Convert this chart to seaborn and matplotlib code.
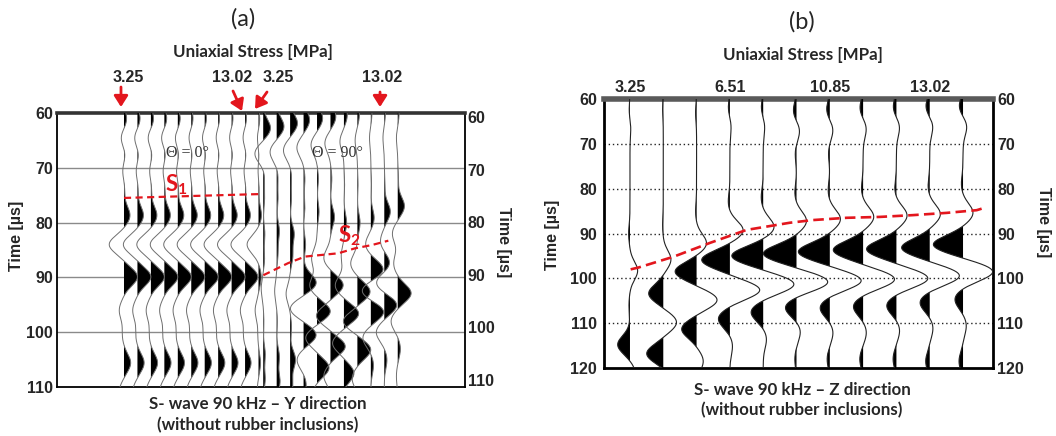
import numpy as np
import pandas as pd
import matplotlib
matplotlib.use("Agg")
import matplotlib.pyplot as plt
import seaborn as sns

sns.set_theme(style="white")
plt.rcParams["font.family"] = ["Liberation Sans", "DejaVu Sans"]
plt.rcParams["mathtext.fontset"] = "custom"
plt.rcParams["mathtext.bf"] = "Lato:bold"
plt.rcParams["mathtext.rm"] = "Lato:bold"

RED = "#e3161d"

# ---------------- panel (a): S-wave 90 kHz, Y direction ----------------
# Each trace is a sequence of wavelet lobes: arrival time [µs] and amplitude
# (in units of trace spacing, positive lobes to the right and filled).
A0_TIMES = [61.3, 64.5, 67.5, 70.5, 73.5, 78.7, 84.0, 89.9, 96.0, 100.5, 105.6, 110.8]
A0_AMPS = [
    [0.22, -0.25, 0.12, -0.12, 0.06, 0.45, -1.10, 1.00, -0.35, -0.12, 0.50, -0.35],
    [0.22, -0.25, 0.12, -0.12, 0.06, 0.45, -1.05, 1.00, -0.35, -0.12, 0.50, -0.35],
    [0.22, -0.25, 0.12, -0.12, 0.06, 0.45, -1.05, 1.00, -0.35, -0.12, 0.50, -0.35],
    [0.20, -0.25, 0.12, -0.12, 0.06, 0.45, -1.05, 1.00, -0.35, -0.12, 0.50, -0.35],
    [0.20, -0.22, 0.10, -0.12, 0.06, 0.45, -1.05, 1.00, -0.35, -0.12, 0.50, -0.35],
    [0.15, -0.20, 0.10, -0.10, 0.06, 0.45, -1.05, 1.00, -0.35, -0.12, 0.50, -0.35],
    [0.15, -0.20, 0.10, -0.10, 0.06, 0.45, -1.05, 1.00, -0.35, -0.12, 0.50, -0.35],
    [0.12, -0.18, 0.10, -0.10, 0.06, 0.42, -1.05, 1.00, -0.35, -0.12, 0.50, -0.35],
    [0.12, -0.18, 0.10, -0.10, 0.06, 0.42, -1.05, 1.00, -0.35, -0.12, 0.48, -0.35],
    [0.12, -0.18, 0.10, -0.10, 0.06, 0.40, -1.05, 0.95, -0.35, -0.12, 0.45, -0.35],
    [0.10, -0.10, 0.05, -0.05, 0.05, 0.22, -0.85, 0.20, -0.25, -0.05, 0.15, -0.10],
]

A90_TIMES = [
    [62.8, 67.4, 71.5, 75.5, 82.0, 86.5, 92.0, 98.0, 104.0, 108.5],
    [62.5, 67.1, 71.5, 75.5, 81.5, 85.5, 92.5, 98.0, 104.5, 109.0],
    [61.9, 66.8, 71.5, 75.5, 82.0, 86.0, 93.0, 99.0, 105.0, 109.5],
    [61.3, 66.3, 72.0, 77.0, 84.0, 91.0, 95.7, 100.5, 105.0, 109.5],
    [61.0, 65.8, 72.0, 78.0, 86.5, 91.5, 96.2, 101.0, 106.5, 111.0],
    [60.7, 65.5, 72.0, 79.0, 86.5, 91.4, 97.0, 102.6, 108.0, 112.0],
    [60.4, 65.2, 73.0, 80.0, 86.0, 91.5, 96.6, 102.0, 107.5, 112.0],
    [60.3, 65.0, 73.0, 80.0, 87.5, 92.6, 98.0, 103.2, 108.5, 112.0],
    [60.2, 64.5, 73.0, 79.2, 84.0, 88.6, 92.5, 96.2, 101.0, 106.0],
    [60.2, 64.5, 73.0, 78.0, 83.5, 87.5, 91.0, 95.0, 100.0, 105.0],
    [60.2, 64.5, 72.0, 77.0, 82.0, 87.5, 92.9, 98.0, 103.0, 108.0],
]
A90_AMPS = [
    [0.55, -0.63, 0.10, 0.10, 0.12, 0.10, -0.15, 0.05, 0.15, 0.15],
    [0.55, -0.50, 0.10, 0.10, 0.20, 0.10, -0.15, 0.05, 0.20, 0.25],
    [0.55, -0.50, 0.10, 0.10, 0.30, 0.20, -0.30, 0.10, 0.40, 0.20],
    [0.45, -0.50, 0.10, 0.10, 0.15, 0.95, -1.00, 0.95, -0.50, 0.20],
    [0.42, -0.45, 0.10, 0.15, -0.40, -0.55, 1.00, -0.85, 0.90, -0.30],
    [0.40, -0.42, 0.10, 0.30, -0.50, 0.95, -1.05, 1.10, -0.50, 0.10],
    [0.25, -0.30, 0.05, 0.20, -0.20, -0.65, 1.10, -0.85, 0.75, -0.20],
    [0.15, -0.17, 0.05, 0.20, -0.50, 0.95, -1.05, 1.00, -0.40, 0.10],
    [0.08, -0.10, 0.05, 0.25, -0.40, 0.95, -0.75, 1.00, -0.60, 0.20],
    [0.08, -0.10, 0.05, 0.45, -0.30, 0.45, -0.65, 0.95, -0.60, 0.20],
    [0.10, -0.10, 0.05, 0.50, -0.40, -0.30, 1.00, -0.50, 0.20, -0.10],
]

A_SPACING_GAP = 0.35          # gap between the two polarisation groups
A_TOP_LABELS = ["3.25", "13.02", "3.25", "13.02"]
A_TIME_TICKS = [60, 70, 80, 90, 100, 110]
S1_X = [0.0, 10.0]
S1_T = [75.5, 74.8]
S2_X = [10.36, 12.2, 13.46, 14.7, 15.93, 17.17, 18.42, 19.65]
S2_T = [89.6, 87.4, 86.2, 85.9, 85.6, 84.7, 84.1, 83.3]

# ---------------- panel (b): S-wave 90 kHz, Z direction ----------------
# positive lobes point left and are filled
B_TIMES = [
    [63.0, 66.0, 90.0, 98.3, 106.0, 114.8, 121.0],
    [62.0, 88.0, 95.8, 103.4, 109.8, 116.8, 123.0],
    [63.0, 85.0, 92.2, 98.5, 104.8, 111.3, 118.5],
    [62.0, 66.0, 83.0, 89.3, 95.9, 102.6, 109.0, 115.0],
    [62.0, 66.0, 82.0, 88.6, 95.0, 101.3, 107.5, 113.5],
    [62.8, 67.0, 72.0, 81.0, 87.2, 94.5, 100.8, 106.4, 111.8, 118.0],
    [62.5, 66.8, 72.0, 80.5, 86.8, 94.1, 100.5, 106.5, 112.0, 118.0],
    [62.2, 66.5, 80.0, 86.3, 93.7, 100.2, 106.2, 112.0, 118.0],
    [62.0, 66.2, 80.0, 86.0, 93.5, 100.0, 106.0, 111.5, 118.0],
    [61.8, 66.0, 79.5, 85.7, 93.2, 99.4, 105.3, 111.0, 118.5],
    [61.8, 66.0, 79.0, 85.4, 92.5, 98.5, 104.6, 110.5, 118.5],
]
B_AMPS = [
    [0.03, -0.03, 0.04, -0.23, 0.03, 0.37, -0.15],
    [0.02, 0.02, -0.23, 0.44, -0.40, 0.50, -0.30],
    [0.03, 0.03, -0.30, 0.65, -0.62, 0.45, -0.20],
    [0.05, -0.04, 0.05, -0.40, 0.85, -0.90, 0.35, -0.08],
    [0.06, -0.05, 0.06, -0.33, 0.95, -0.93, 0.37, -0.10],
    [0.10, -0.10, 0.04, 0.05, -0.30, 1.00, -0.95, 0.35, -0.12, 0.05],
    [0.10, -0.10, 0.04, 0.05, -0.32, 0.95, -0.95, 0.30, -0.10, 0.08],
    [0.10, -0.10, 0.05, -0.32, 0.90, -0.95, 0.30, -0.10, 0.10],
    [0.10, -0.10, 0.05, -0.32, 0.90, -0.95, 0.30, -0.10, 0.10],
    [0.12, -0.10, 0.05, -0.32, 0.85, -0.90, 0.30, -0.10, 0.12],
    [0.12, -0.12, 0.05, -0.30, 0.90, -0.90, 0.25, -0.10, 0.12],
]
B_TOP_LABELS = ["3.25", "6.51", "10.85", "13.02"]
B_LABEL_TRACES = [0, 3, 6, 9]
B_TIME_TICKS = [60, 70, 80, 90, 100, 110, 120]
B_PICK_X = [0.02, 0.25, 1.3, 2.4, 3.5, 4.8, 5.5, 6.5, 7.5, 8.5, 9.51, 10.41, 10.63]
B_PICK_T = [98.0, 97.6, 95.2, 92.1, 89.2, 87.6, 87.0, 86.5, 86.3, 85.9, 85.4, 84.8, 84.3]


def wiggle(times, amps, t, sigma):
    w = np.zeros_like(t)
    for tc, a in zip(times, amps):
        w += a * np.exp(-0.5 * ((t - tc) / sigma) ** 2)
    return w


def draw_section(ax, positions, times, amps, t, sigma, direction, line_color, lw):
    rows = []
    for i, (x0, tt, aa) in enumerate(zip(positions, times, amps)):
        w = wiggle(tt, aa, t, sigma)
        x = x0 + direction * w
        rows.append(pd.DataFrame({"trace": i, "time": t, "x": x}))
        ax.fill_betweenx(t, x0, x, where=w > 0, interpolate=True,
                         color="black", lw=0, zorder=3)
    df = pd.concat(rows, ignore_index=True)
    sns.lineplot(data=df, x="x", y="time", units="trace", estimator=None,
                 sort=False, orient="y", color=line_color, lw=lw,
                 legend=False, ax=ax, zorder=4)
    ax.set_xlabel("")
    ax.set_ylabel("")


W, H = 1056, 436
fig = plt.figure(figsize=(W / 100, H / 100), dpi=100)


def box(l, t, r, b):
    return [l / W, 1 - b / H, (r - l) / W, (b - t) / H]


tick_font = dict(fontsize=11.5, fontweight="bold")

# ---------- panel (a) ----------
axA = fig.add_axes(box(57, 113, 465, 387))
posA0 = np.arange(len(A0_AMPS), dtype=float)
posA90 = posA0[-1] + A_SPACING_GAP + np.arange(len(A90_AMPS), dtype=float)
tA = np.linspace(59.0, 111.0, 1400)
for k in A_TIME_TICKS[1:-1]:
    axA.axhline(k, color="#8a8a8a", lw=1.0, zorder=1)
draw_section(axA, posA0, [A0_TIMES] * len(A0_AMPS), A0_AMPS, tA, 1.6, +1, "#6e6e6e", 0.7)
draw_section(axA, posA90, A90_TIMES, A90_AMPS, tA, 1.6, +1, "#6e6e6e", 0.7)
axA.set_xlim(-4.98, 25.35)
axA.set_ylim(110, 60)
axA.set_xticks([])
axA.set_yticks(A_TIME_TICKS)
axA.set_yticklabels([str(v) for v in A_TIME_TICKS], **tick_font)
axA.tick_params(axis="y", length=0, pad=3)
for s in axA.spines.values():
    s.set_color("black")
    s.set_linewidth(1.3)
axA.spines["top"].set_linewidth(2.6)
axA.spines["top"].set_color("#333333")
axA.grid(False)

axA2 = axA.twinx()
axA2.set_ylim(111.33, 59.24)
axA2.set_yticks(A_TIME_TICKS)
axA2.set_yticklabels([str(v) for v in A_TIME_TICKS], **tick_font)
axA2.tick_params(axis="y", length=0, pad=2)
for s in axA2.spines.values():
    s.set_visible(False)
axA2.grid(False)

# picks
axA.plot(S1_X, S1_T, color=RED, lw=1.6, dashes=(3.2, 2.0), zorder=6)
axA.plot(S2_X, S2_T, color=RED, lw=1.6, dashes=(3.2, 2.0), zorder=6)
axA.text(3.87, 73.0, r"$\mathbf{S}_{\mathbf{1}}$", color=RED, fontsize=16,
         ha="center", va="center", zorder=7)
axA.text(16.75, 82.3, r"$\mathbf{S}_{\mathbf{2}}$", color=RED, fontsize=16,
         ha="center", va="center", zorder=7)
axA.text(4.68, 67.3, "Θ = 0°", family="Liberation Serif", fontsize=11.5,
         color="#333333", ha="center", va="center", zorder=7)
axA.text(15.84, 67.3, "Θ = 90°", family="Liberation Serif", fontsize=11.5,
         color="#333333", ha="center", va="center", zorder=7)


def ax_a_coords(px, py):
    return (px - 124) / 13.45, 60 + (py - 113) / 5.48


label_px = [128, 232, 278, 382]
arrow_tail = [(121, 87), (233, 91), (267, 92), (380, 92)]
arrow_tip = [(121, 107), (242, 111), (255, 109), (380, 107)]
for lab, lx, tail, tip in zip(A_TOP_LABELS, label_px, arrow_tail, arrow_tip):
    x, y = ax_a_coords(lx, 77)
    axA.text(x, y, lab, ha="center", va="center", clip_on=False, **tick_font)
    axA.annotate("", xy=ax_a_coords(*tip), xytext=ax_a_coords(*tail),
                 annotation_clip=False,
                 arrowprops=dict(arrowstyle="-|>,head_length=0.55,head_width=0.35",
                                 color=RED, lw=2.0, shrinkA=0, shrinkB=0))

# ---------- panel (b) ----------
axB = fig.add_axes(box(604, 99, 993, 368))
posB = np.arange(len(B_AMPS), dtype=float)
tB = np.linspace(59.0, 121.0, 1400)
for k in B_TIME_TICKS[1:-1]:
    axB.axhline(k, color="#222222", lw=1.0, ls=(0, (1, 2)), zorder=1)
draw_section(axB, posB, B_TIMES, B_AMPS, tB, 2.0, -1, "#222222", 0.8)
axB.set_xlim(-0.78, 10.9)
axB.set_ylim(120, 60)
axB.xaxis.tick_top()
axB.set_xticks(B_LABEL_TRACES)
axB.set_xticklabels(B_TOP_LABELS, **tick_font)
axB.tick_params(axis="x", length=0, pad=3)
axB.set_yticks(B_TIME_TICKS)
axB.set_yticklabels([str(v) for v in B_TIME_TICKS], **tick_font)
axB.tick_params(axis="y", length=0, pad=5)
for s in axB.spines.values():
    s.set_color("black")
    s.set_linewidth(2.0)
axB.spines["top"].set_linewidth(4.0)
axB.spines["top"].set_color("#5a5a5a")
axB.grid(False)
axB.plot(B_PICK_X, B_PICK_T, color=RED, lw=1.9, dashes=(4.0, 2.0), zorder=6)

axB2 = axB.twinx()
axB2.set_ylim(120, 60)
axB2.set_yticks(B_TIME_TICKS)
axB2.set_yticklabels([str(v) for v in B_TIME_TICKS], **tick_font)
axB2.tick_params(axis="y", length=0, pad=3)
for s in axB2.spines.values():
    s.set_visible(False)
axB2.grid(False)

# ---------- titles and captions ----------
cap = dict(family="Lato", fontweight="bold", fontsize=12.2, ha="center", va="center")
fig.text(243 / W, 1 - 19 / H, "(a)", family="Lato", fontsize=17, ha="center", va="center")
fig.text(802 / W, 1 - 22 / H, "(b)", family="Lato", fontsize=17, ha="center", va="center")
fig.text(253 / W, 1 - 52 / H, "Uniaxial Stress [MPa]", **cap)
fig.text(803 / W, 1 - 55 / H, "Uniaxial Stress [MPa]", **cap)
fig.text(258 / W, 1 - 404 / H, "S- wave 90 kHz – Y direction", **cap)
fig.text(258 / W, 1 - 425 / H, "(without rubber inclusions)", **cap)
fig.text(802 / W, 1 - 390 / H, "S- wave 90 kHz – Z direction", **cap)
fig.text(802 / W, 1 - 410 / H, "(without rubber inclusions)", **cap)

ylab = dict(fontsize=11.5, fontweight="bold", ha="center", va="center")
fig.text(17 / W, 1 - 236 / H, "Time [µs]", rotation=90, **ylab)
fig.text(503 / W, 1 - 242 / H, "Time [µs]", rotation=270, **ylab)
fig.text(553 / W, 1 - 235 / H, "Time [µs]", rotation=90, **ylab)
fig.text(1043 / W, 1 - 222 / H, "Time [µs]", rotation=270, **ylab)

fig.savefig("out.png", dpi=100)
